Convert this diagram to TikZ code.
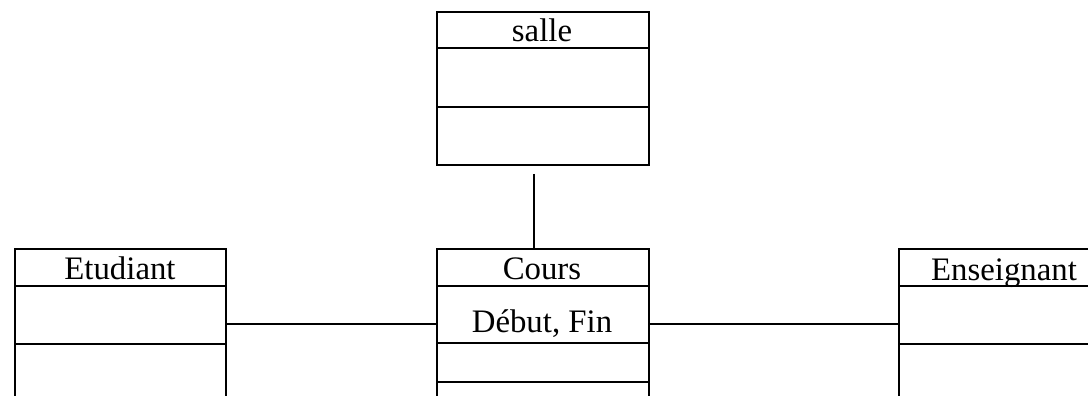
\documentclass[tikz,border=0pt]{standalone}
\usepackage{fontspec}
\setmainfont{Liberation Serif}
\begin{document}
\begin{tikzpicture}[x=1pt,y=1pt,
  classbox/.style={draw, line width=1.8pt, rectangle, inner sep=0pt, anchor=north west, minimum width=212pt},
  sep/.style={line width=1.8pt},
  link/.style={line width=1.6pt},
  lbl/.style={anchor=base, inner sep=0pt, font=\fontsize{32.8}{38}\selectfont}]
\clip (0,0) rectangle (1088,396);
% salle
\node[classbox, minimum height=153pt] (salle) at (436,385) {};
\draw[sep] ([yshift=-37pt]salle.north west) -- ([yshift=-37pt]salle.north east);
\draw[sep] ([yshift=-96pt]salle.north west) -- ([yshift=-96pt]salle.north east);
\node[lbl] (salleT) at (542,396-42) {salle};
% Cours
\node[classbox, minimum height=175pt] (cours) at (436,148) {};
\draw[sep] ([yshift=-38pt]cours.north west) -- ([yshift=-38pt]cours.north east);
\draw[sep] ([yshift=-95pt]cours.north west) -- ([yshift=-95pt]cours.north east);
\draw[sep] ([yshift=-134pt]cours.north west) -- ([yshift=-134pt]cours.north east);
\node[lbl] (coursT) at (542,396-280) {Cours};
\node[lbl] (coursA) at (542,396-333) {Début, Fin};
% Etudiant
\node[classbox, minimum width=211pt, minimum height=175pt] (etud) at (14,148) {};
\draw[sep] ([yshift=-38pt]etud.north west) -- ([yshift=-38pt]etud.north east);
\draw[sep] ([yshift=-96pt]etud.north west) -- ([yshift=-96pt]etud.north east);
\node[lbl] (etudT) at (120,396-280) {Etudiant};
% Enseignant
\node[classbox, minimum height=175pt] (ens) at (898,148) {};
\draw[sep] ([yshift=-38pt]ens.north west) -- ([yshift=-38pt]ens.north east);
\draw[sep] ([yshift=-96pt]ens.north west) -- ([yshift=-96pt]ens.north east);
\node[lbl] (ensT) at (1004,396-280.5) {Enseignant};
% connectors
\draw[link, shorten <=8pt] ([xshift=-9pt]salle.south) -- ([xshift=-9pt]cours.north);
\draw[link] ([yshift=-76pt]etud.north east) -- ([yshift=-76pt]cours.north west);
\draw[link] ([yshift=-76pt]cours.north east) -- ([yshift=-76pt]ens.north west);
\end{tikzpicture}
\end{document}
